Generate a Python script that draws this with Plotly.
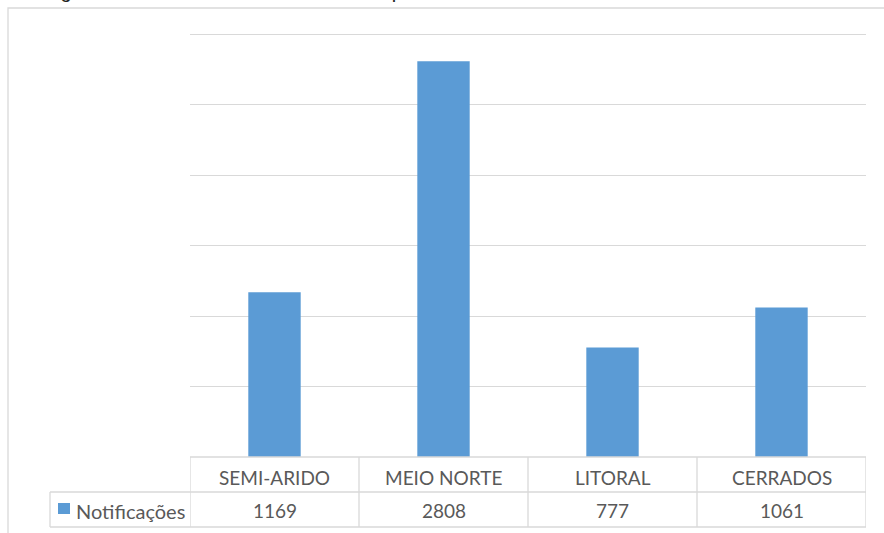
import plotly.graph_objects as go

categories = ["SEMI-ARIDO", "MEIO NORTE", "LITORAL", "CERRADOS"]
values = [1169, 2808, 777, 1061]
series_name = "Notificações"
title_text = "Por região de saúde do estado do Piauí no período de 2010 a 2014"

W, H = 884, 533
L, R, T, B = 190, 18, 32, 76
PW, PH = W - L - R, H - T - B

def px_x(px):
    return (px - L) / PW

def px_y(py):
    return (H - B - py) / PH

BAR = "#5b9bd5"
GRID = "#d9d9d9"
TXT = "#595959"
FONT = "Lato"

fig = go.Figure()
fig.add_trace(go.Bar(x=categories, y=values, marker=dict(color=BAR, line=dict(width=0)),
                     name=series_name, showlegend=False))

shapes = []
# outer chart frame
shapes.append(dict(type="rect", xref="paper", yref="paper", x0=px_x(8), x1=px_x(905),
                   y0=px_y(545), y1=px_y(8), line=dict(color=GRID, width=1.3), layer="below"))
# table horizontal lines
shapes.append(dict(type="line", xref="x", yref="paper", x0=-0.5, x1=len(categories) - 0.5,
                   y0=px_y(457), y1=px_y(457), line=dict(color=GRID, width=1.3)))
for py in (492, 527):
    shapes.append(dict(type="line", xref="paper", yref="paper", x0=px_x(50), x1=1,
                       y0=px_y(py), y1=px_y(py), line=dict(color=GRID, width=1.3)))
# legend cell left border
shapes.append(dict(type="line", xref="paper", yref="paper", x0=px_x(50), x1=px_x(50),
                   y0=px_y(492), y1=px_y(527), line=dict(color=GRID, width=1.3)))
# category column borders
for i in range(len(categories) + 1):
    shapes.append(dict(type="line", xref="x", yref="paper", x0=i - 0.5, x1=i - 0.5,
                       y0=px_y(457), y1=px_y(527), line=dict(color=GRID, width=1.3)))
# legend key
shapes.append(dict(type="rect", xref="paper", yref="paper", x0=px_x(58), x1=px_x(70),
                   y0=px_y(514), y1=px_y(503), fillcolor=BAR, line=dict(width=0)))

annotations = []
for c, v in zip(categories, values):
    annotations.append(dict(x=c, xref="x", y=px_y(478), yref="paper", text=c, showarrow=False,
                            font=dict(family=FONT, size=19, color=TXT), xanchor="center", yanchor="middle"))
    annotations.append(dict(x=c, xref="x", y=px_y(511), yref="paper", text=str(v), showarrow=False,
                            font=dict(family=FONT, size=19, color=TXT), xanchor="center", yanchor="middle"))
annotations.append(dict(x=px_x(74), xref="paper", y=px_y(511), yref="paper", text=series_name,
                        showarrow=False, font=dict(family=FONT, size=20, color=TXT),
                        xanchor="left", yanchor="middle"))
# title (cropped at top of image in the reference)
annotations.append(dict(x=px_x(4), xref="paper", y=px_y(-9), yref="paper", text=title_text,
                        showarrow=False, font=dict(family="Liberation Sans", size=20, color="#222222"),
                        xanchor="left", yanchor="middle"))

fig.update_layout(
    width=W, height=H,
    margin=dict(l=L, r=R, t=T, b=B),
    paper_bgcolor="white", plot_bgcolor="white",
    bargap=0.69,
    xaxis=dict(showticklabels=False, showgrid=False, zeroline=False, showline=False,
               range=[-0.5, len(categories) - 0.5]),
    yaxis=dict(range=[0, 3015], tickvals=[500, 1000, 1500, 2000, 2500, 3000], showgrid=True,
               gridcolor=GRID, gridwidth=1.3, showticklabels=False, zeroline=False, showline=False),
    shapes=shapes, annotations=annotations,
)
fig.write_html("out.html")
